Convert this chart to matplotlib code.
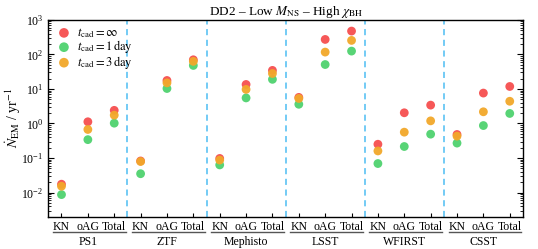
import numpy as np
import matplotlib
matplotlib.use("Agg")
import matplotlib.pyplot as plt
from matplotlib.ticker import LogLocator, NullFormatter

plt.rcParams['font.family'] = ['Liberation Serif', 'DejaVu Serif']
plt.rcParams['mathtext.fontset'] = 'stix'

surveys = ['PS1', 'ZTF', 'Mephisto', 'LSST', 'WFIRST', 'CSST']
kinds = ['KN', 'oAG', 'Total']

# rows: surveys, columns: KN, oAG, Total
rate_inf = [[0.0174, 1.12, 2.4],
            [0.082, 17.6, 70],
            [0.097, 13.5, 34.5],
            [5.7, 272, 475],
            [0.25, 2.04, 3.4],
            [0.48, 7.6, 11.8]]
rate_1day = [[0.0087, 0.34, 1.02],
             [0.035, 10.3, 48],
             [0.063, 5.5, 19],
             [3.6, 51, 125],
             [0.069, 0.215, 0.49],
             [0.27, 0.87, 1.95]]
rate_3day = [[0.0152, 0.67, 1.74],
             [0.079, 15, 63],
             [0.087, 9.7, 28],
             [5.3, 117, 255],
             [0.16, 0.56, 1.19],
             [0.43, 2.18, 4.4]]

fig, ax = plt.subplots(figsize=(5.38, 2.49), dpi=100)
fig.subplots_adjust(left=0.0898, right=0.972, bottom=0.13, top=0.92)

x = np.arange(len(surveys) * len(kinds)) + 0.5
series = [(rate_inf, '#f64f4f', r'$t_{\rm cad} = \infty$'),
          (rate_1day, '#4fd26f', r'$t_{\rm cad} = 1\,{\rm day}$'),
          (rate_3day, '#f2a82a', r'$t_{\rm cad} = 3\,{\rm day}$')]
for vals, col, lab in series:
    ax.scatter(x, np.ravel(vals), s=40, color=col, edgecolors='none', alpha=0.95, label=lab, zorder=3)

# dividers between surveys
for i in range(1, len(surveys)):
    ax.axvline(i * 3, color='#4dbdf2', ls=(0, (4, 3)), lw=1.1, zorder=1)

ax.set_yscale('log')
ax.set_ylim(2e-3, 1e3)
ax.set_xlim(0, 18)
ax.yaxis.set_major_locator(LogLocator(base=10, numticks=10))
ax.yaxis.set_minor_locator(LogLocator(base=10, subs=np.arange(2, 10), numticks=20))
ax.yaxis.set_minor_formatter(NullFormatter())
ax.tick_params(axis='y', which='both', direction='in', right=True, labelsize=8.5)
ax.tick_params(axis='y', which='major', length=4)
ax.tick_params(axis='y', which='minor', length=2)
ax.set_xticks(x)
ax.set_xticklabels(kinds * len(surveys), fontsize=8.5)
ax.tick_params(axis='x', direction='in', length=3, pad=3)
for sp in ax.spines.values():
    sp.set_linewidth(1.0)

ax.set_ylabel(r'$\dot{N}_{\rm EM}$ / yr$^{-1}$', fontsize=10, labelpad=-1)
ax.set_title(r'DD2 – Low $M_{\rm NS}$ – High $\chi_{\rm BH}$', fontsize=9.5, pad=3)

# group underlines and survey names
trans = ax.get_xaxis_transform()
for i, name in enumerate(surveys):
    ax.plot([i * 3 + 0.18, i * 3 + 2.93], [-0.08, -0.08], transform=trans,
            color='#555555', lw=1.0, clip_on=False)
    ax.text(i * 3 + 1.5, -0.1, name, transform=trans, ha='center', va='top', fontsize=8.5)

ax.legend(loc='upper left', frameon=False, fontsize=9, handletextpad=0.3,
          labelspacing=-0.12, borderaxespad=0.2, borderpad=0.3, markerscale=1.1,
          handlelength=1.5)

fig.savefig('out.png', dpi=100)
